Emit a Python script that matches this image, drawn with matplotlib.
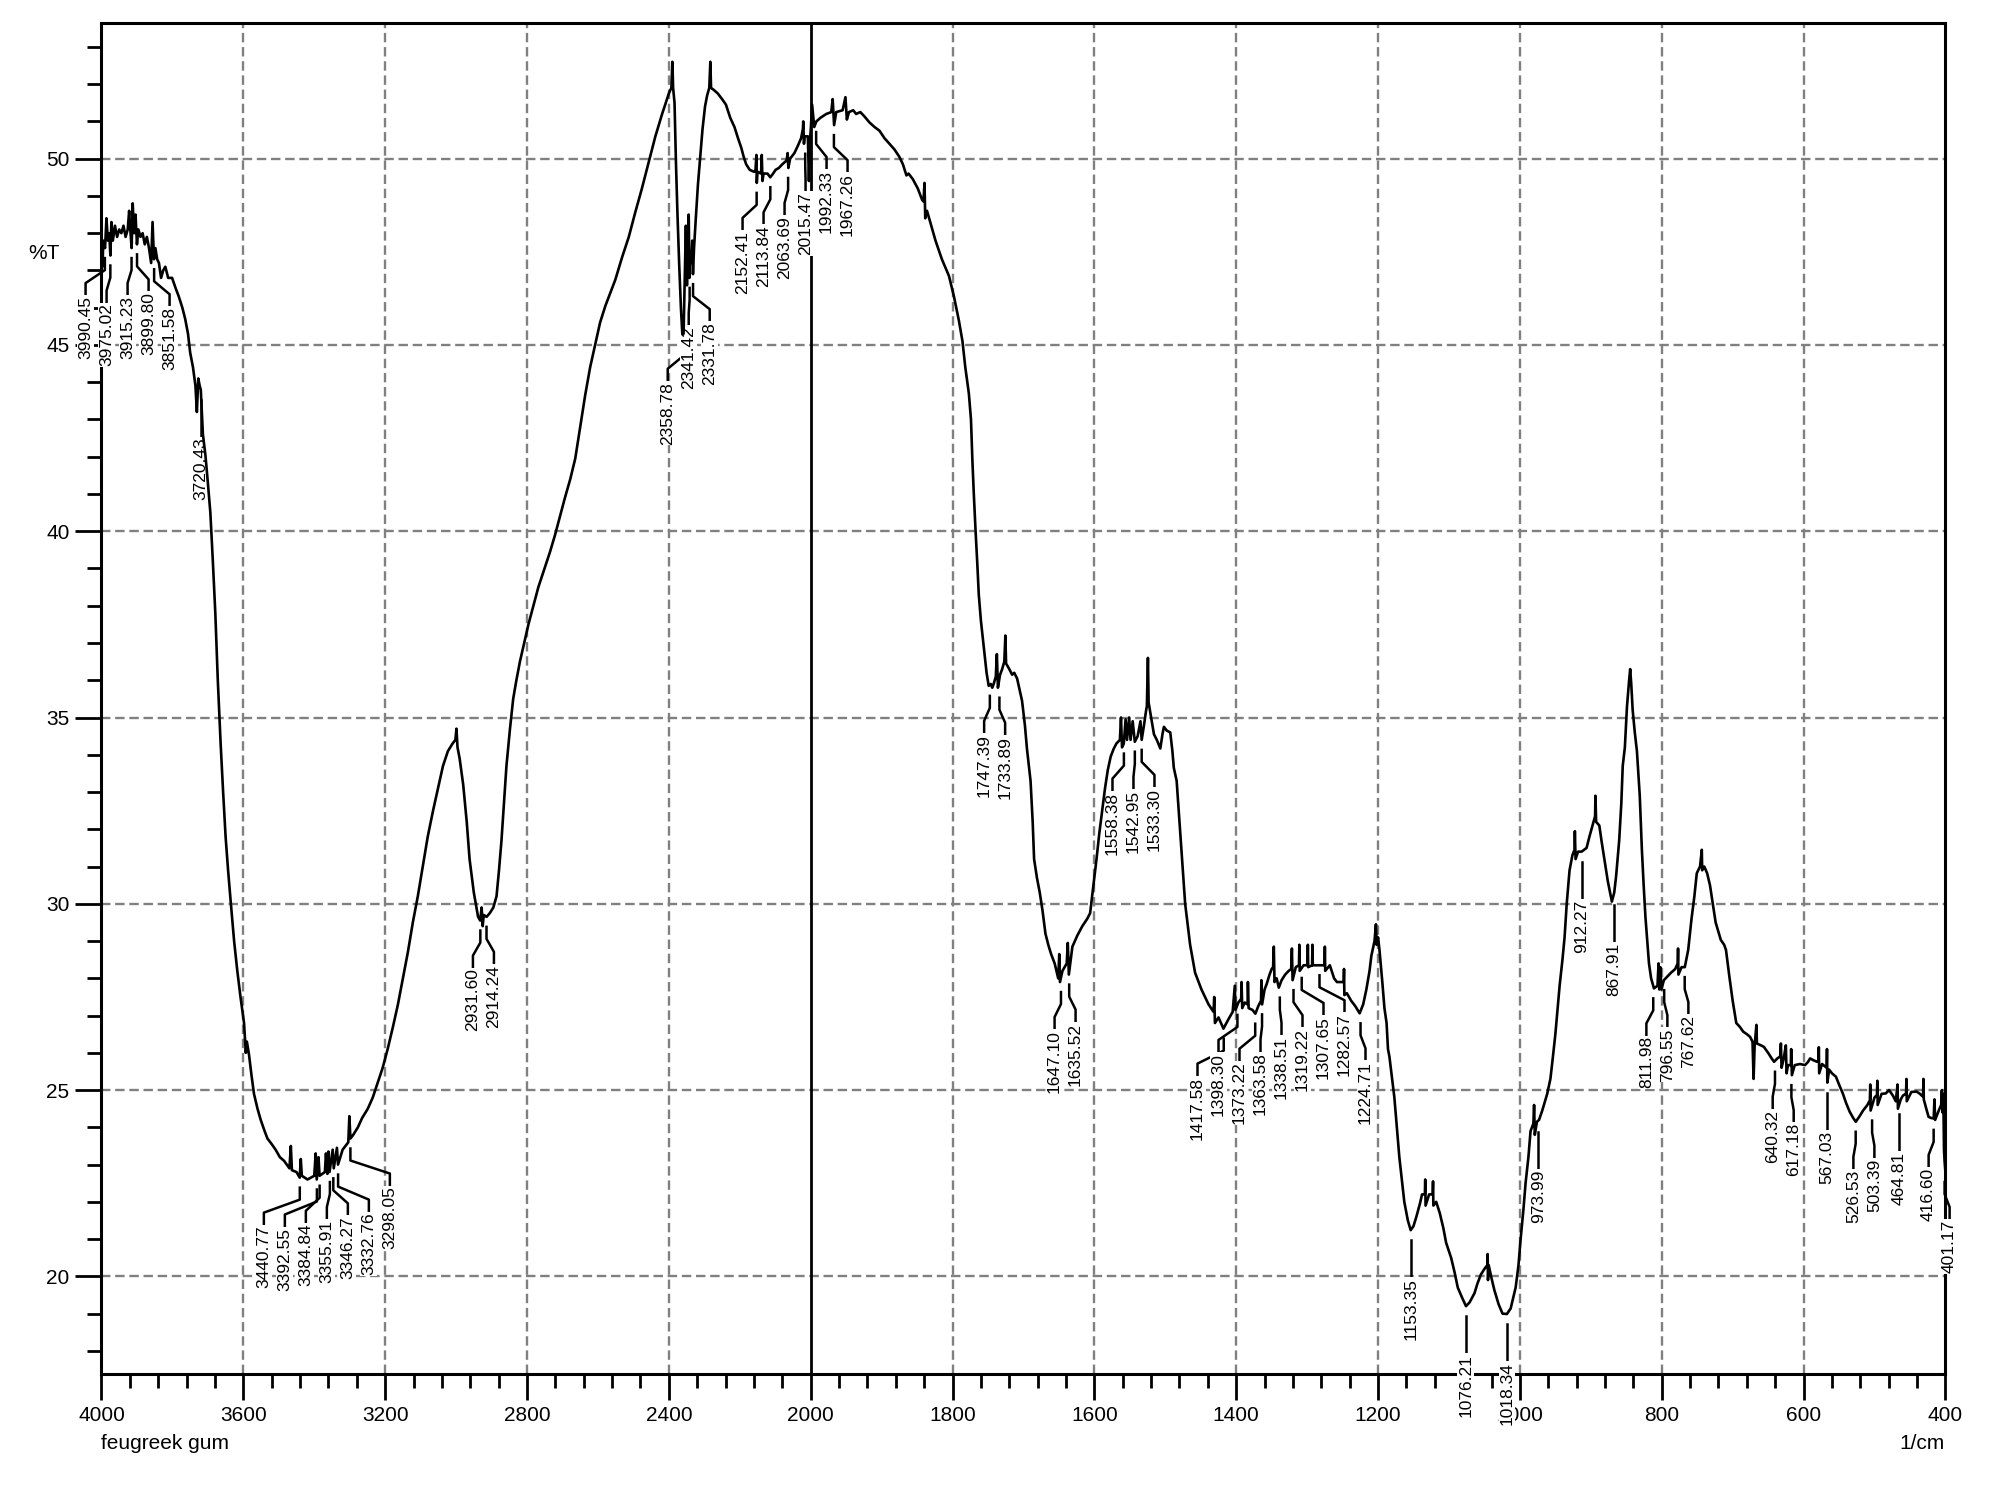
import numpy as np
import matplotlib
matplotlib.use("Agg")
import matplotlib.pyplot as plt
from matplotlib.ticker import FixedLocator

plt.rcParams['font.family'] = ['Liberation Sans', 'DejaVu Sans']

# spectrum (1/cm, %T)
wavenumber = [
    4000, 3997, 3995, 3990, 3986, 3982, 3978, 3975, 3972, 3968, 3962, 3956, 3950, 3944, 3938,
    3932, 3926, 3922, 3918, 3915, 3912, 3908, 3904, 3900, 3896, 3890, 3884, 3878, 3872, 3866,
    3860, 3856, 3852, 3848, 3843, 3838, 3832, 3826, 3820, 3812, 3801, 3790, 3782, 3772, 3764,
    3756, 3750, 3742, 3735, 3731, 3727, 3723, 3720, 3714, 3707, 3700, 3693, 3686, 3679, 3672,
    3664, 3657, 3650, 3643, 3636, 3626, 3617, 3608, 3598, 3593, 3590, 3584, 3577, 3570, 3560,
    3551, 3540, 3532, 3520, 3509, 3497, 3485, 3470, 3466, 3463, 3450, 3441, 3438, 3435, 3419,
    3400, 3396, 3393, 3388, 3385, 3370, 3367, 3363, 3360, 3357, 3348, 3345, 3336, 3333, 3320,
    3304, 3301, 3298, 3290, 3277, 3265, 3249, 3235, 3221, 3207, 3193, 3178, 3164, 3150, 3136,
    3122, 3108, 3094, 3080, 3065, 3051, 3037, 3023, 3010, 3002, 2999, 2996, 2990, 2980, 2970,
    2962, 2950, 2938, 2932, 2928, 2925, 2922, 2914, 2905, 2895, 2886, 2879, 2872, 2865, 2858,
    2848, 2839, 2830, 2820, 2808, 2796, 2782, 2768, 2749, 2735, 2721, 2707, 2693, 2678, 2664,
    2650, 2636, 2622, 2608, 2594, 2579, 2565, 2551, 2532, 2513, 2495, 2476, 2457, 2438, 2419,
    2400, 2393, 2390, 2388, 2384, 2380, 2376, 2371, 2366, 2362, 2358.5, 2355, 2352, 2349, 2346,
    2344, 2342, 2340, 2337, 2334, 2332, 2329, 2324, 2318, 2312, 2305, 2298, 2292, 2286, 2283,
    2281, 2274, 2262, 2250, 2239, 2227, 2215, 2205, 2196, 2189, 2182, 2172, 2160, 2156, 2153,
    2152, 2150, 2140, 2138, 2136, 2133, 2122, 2114, 2106, 2099, 2090, 2080, 2068, 2065, 2063,
    2058, 2046, 2036, 2027, 2022, 2021, 2019, 2017, 2012, 2008, 2005, 2002, 2000, 1998, 1995,
    1992, 1986, 1978, 1971, 1969, 1967, 1964, 1955, 1951, 1949, 1946, 1940, 1936, 1930, 1925,
    1917, 1910, 1903, 1896, 1889, 1882, 1875, 1870, 1865, 1862, 1856, 1849, 1843, 1841, 1839.5,
    1838.5, 1836, 1830, 1824, 1815, 1805, 1798, 1791, 1786, 1782, 1777, 1774, 1772, 1770, 1767.5,
    1765, 1763, 1760, 1756, 1752, 1749, 1746, 1744, 1742, 1739, 1737.5, 1736, 1733, 1730, 1727,
    1725.5, 1724.5, 1720, 1716, 1713, 1709, 1705, 1702, 1698, 1695, 1690, 1687, 1685, 1681, 1677,
    1673, 1669, 1665, 1661, 1656, 1651, 1649.5, 1648.5, 1645, 1639, 1637.5, 1636, 1631, 1624, 1617,
    1610, 1606, 1601, 1597, 1593, 1589, 1585, 1581, 1577, 1573, 1569, 1564, 1562.5, 1561, 1558.5,
    1556, 1554, 1551, 1549, 1546, 1543, 1539, 1535, 1533.3, 1530, 1527, 1526, 1524.5, 1523.5, 1520,
    1516, 1512, 1507, 1504, 1502, 1498, 1493, 1490, 1488, 1484, 1480, 1477, 1472, 1465, 1458,
    1449, 1439, 1432, 1431, 1430, 1425, 1418, 1411, 1405, 1402, 1401, 1397, 1393, 1392.5, 1391.5,
    1388, 1384, 1383.5, 1382.5, 1377, 1373, 1369, 1365, 1364.5, 1363.5, 1360, 1357, 1353, 1350, 1348,
    1347, 1346, 1343, 1340, 1336, 1331, 1326, 1322.5, 1321.5, 1320.5, 1316, 1311.5, 1311, 1310.5, 1305,
    1299.5, 1299, 1298.5, 1293, 1292.5, 1292, 1283, 1275.5, 1275, 1274.5, 1268, 1262, 1258, 1252, 1248.5,
    1248, 1247.5, 1244, 1238, 1232, 1226, 1221, 1216.5, 1212, 1209.5, 1205, 1203, 1202, 1200, 1198,
    1194, 1191, 1188, 1186, 1184, 1177, 1170, 1163, 1158, 1154, 1150, 1146, 1141, 1138, 1134,
    1133.5, 1133, 1128, 1123, 1122.5, 1122, 1118, 1113, 1108, 1104, 1097, 1092, 1087.6, 1082, 1076,
    1071, 1064, 1060, 1055, 1050, 1046, 1045.5, 1045, 1044, 1040, 1036, 1030, 1024.5, 1018.3, 1013,
    1006, 1002, 999, 995, 992, 988, 985, 981, 980, 979, 976, 973, 968.5, 961.5, 957,
    954, 950, 947, 944, 940, 937, 934, 930, 926, 923, 922.5, 921.5, 918, 913, 906,
    902, 898, 894, 893.5, 892.5, 888, 885, 881.5, 876, 870.3, 867, 864.4, 860, 857, 855,
    852, 849, 846, 844.5, 843, 841, 838, 835, 831, 828, 825.5, 823, 820, 818, 815,
    811, 806, 804.5, 803.5, 802, 800.5, 797, 792, 787, 781, 777.5, 777, 776.5, 772, 767.5,
    762.7, 758, 754, 750.6, 746, 743.5, 743, 740, 736, 732, 728.8, 724, 716.7, 712, 709.4,
    704.6, 700, 694.9, 690, 685.2, 680, 675.5, 672, 670.5, 669, 666.5, 665.8, 660, 656, 650,
    645, 641.6, 637, 633, 632, 631, 628, 625, 624, 622, 618, 617.5, 616.5, 612.5, 605,
    598, 594, 590.8, 586, 581, 579, 578.5, 578, 574, 567.5, 567, 566.5, 564, 560, 554.4,
    550, 544.7, 540, 535, 530, 526.4, 521, 515.8, 510, 506.5, 506, 505.5, 500, 496.5, 496,
    495.5, 490, 484.2, 479.4, 474, 470, 467.5, 467, 463, 460, 455.5, 455, 454.5, 448, 440.7,
    436, 431.5, 431, 430.5, 427, 423.7, 420, 416.5, 415.5, 414.5, 409.2, 406, 405, 404, 403,
    402, 401.2, 400,
]
transmittance = [
    47.8, 47.1, 47.8, 47.6, 48.4, 47.8, 48.0, 47.4, 48.3, 47.8, 48.2, 47.9, 48.1, 48.0, 48.2,
    47.9, 48.1, 48.6, 48.0, 47.6, 48.8, 48.0, 48.5, 47.7, 48.1, 47.9, 48.0, 47.7, 47.9, 47.6,
    47.2, 48.3, 47.3, 47.6, 47.3, 47.2, 46.8, 47.0, 47.1, 46.8, 46.8, 46.5, 46.3, 46.0, 45.7,
    45.3, 44.8, 44.4, 43.9, 43.2, 44.1, 43.9, 43.8, 42.6, 42.05, 41.3, 40.5, 39.2, 37.8, 36.0,
    34.3, 33.0, 31.8, 30.9, 30.1, 29.0, 28.2, 27.5, 26.8, 26.0, 26.3, 25.95, 25.4, 24.9, 24.5,
    24.2, 23.9, 23.7, 23.55, 23.4, 23.2, 23.1, 22.9, 23.5, 22.85, 22.8, 22.65, 23.15, 22.7, 22.6,
    22.7, 23.3, 22.6, 23.2, 22.7, 22.8, 23.3, 22.75, 23.35, 22.8, 23.4, 22.9, 23.45, 23.0, 23.4,
    23.6, 24.3, 23.7, 23.8, 24.0, 24.25, 24.5, 24.8, 25.2, 25.6, 26.1, 26.7, 27.3, 28.0, 28.7,
    29.5, 30.2, 31.0, 31.8, 32.5, 33.1, 33.7, 34.1, 34.3, 34.4, 34.7, 34.2, 33.9, 33.2, 32.2,
    31.2, 30.3, 29.65, 29.55, 29.9, 29.4, 29.7, 29.65, 29.75, 29.9, 30.2, 30.9, 31.7, 32.7, 33.7,
    34.7, 35.5, 36.0, 36.5, 37.0, 37.5, 38.0, 38.5, 39.05, 39.45, 39.9, 40.4, 40.9, 41.4, 41.95,
    42.8, 43.65, 44.4, 45.0, 45.6, 46.05, 46.4, 46.75, 47.35, 47.9, 48.55, 49.2, 49.9, 50.6, 51.2,
    51.75, 51.9, 52.6, 51.9, 51.5, 49.9, 48.6, 47.2, 46.0, 45.3, 45.3, 46.8, 48.2, 46.6, 47.8,
    48.5, 46.8, 47.4, 47.2, 47.8, 46.9, 47.6, 48.4, 49.3, 50.0, 50.8, 51.4, 51.7, 51.9, 52.6,
    51.9, 51.85, 51.75, 51.6, 51.45, 51.1, 50.85, 50.55, 50.3, 50.05, 49.85, 49.7, 49.65, 49.65, 50.1,
    49.35, 49.65, 49.6, 50.1, 49.4, 49.6, 49.6, 49.5, 49.6, 49.7, 49.75, 49.85, 49.95, 50.15, 49.75,
    50.0, 50.15, 50.35, 50.55, 50.8, 51.0, 50.4, 50.6, 50.6, 50.6, 49.4, 50.5, 50.75, 51.45, 50.85,
    51.0, 51.1, 51.2, 51.25, 51.6, 50.9, 51.25, 51.3, 51.65, 51.05, 51.25, 51.3, 51.2, 51.25, 51.15,
    50.97, 50.85, 50.75, 50.55, 50.4, 50.25, 50.05, 49.85, 49.55, 49.6, 49.45, 49.2, 48.9, 48.85, 49.35,
    48.4, 48.6, 48.2, 47.8, 47.3, 46.85, 46.3, 45.65, 45.1, 44.4, 43.7, 43.0, 41.9, 41.0, 40.0,
    39.1, 38.3, 37.6, 36.9, 36.2, 35.85, 35.9, 35.8, 35.9, 36.1, 36.7, 35.8, 36.15, 36.3, 36.5,
    37.2, 36.45, 36.3, 36.15, 36.2, 36.05, 35.7, 35.45, 34.8, 34.15, 33.3, 32.2, 31.2, 30.7, 30.3,
    29.8, 29.2, 28.9, 28.65, 28.4, 28.0, 28.65, 27.9, 28.2, 28.4, 28.95, 28.1, 28.85, 29.15, 29.4,
    29.6, 29.75, 30.55, 31.2, 31.9, 32.5, 33.1, 33.6, 33.95, 34.15, 34.3, 34.4, 35.0, 34.2, 34.3,
    34.95, 34.4, 35.0, 34.4, 34.9, 34.35, 34.5, 34.9, 34.4, 34.8, 35.2, 35.3, 36.6, 35.4, 35.0,
    34.55, 34.4, 34.17, 34.55, 34.75, 34.65, 34.6, 34.1, 33.65, 33.3, 32.2, 31.4, 30.0, 28.9, 28.15,
    27.7, 27.3, 27.1, 27.5, 26.8, 26.95, 26.65, 26.9, 27.1, 27.8, 27.15, 27.35, 27.45, 27.9, 27.2,
    27.35, 27.3, 27.9, 27.2, 27.15, 27.05, 27.25, 27.4, 27.95, 27.3, 27.7, 27.85, 28.1, 28.25, 28.3,
    28.85, 27.9, 28.0, 27.75, 27.95, 28.1, 28.2, 28.25, 28.8, 27.95, 28.3, 28.35, 28.9, 28.2, 28.35,
    28.35, 28.9, 28.3, 28.35, 28.9, 28.35, 28.35, 28.35, 28.85, 28.2, 28.35, 28.0, 27.9, 27.9, 27.9,
    28.25, 27.55, 27.6, 27.4, 27.25, 27.06, 27.3, 27.7, 28.2, 28.6, 29.0, 29.45, 28.9, 29.1, 28.76,
    27.9, 27.2, 26.8, 26.1, 25.9, 24.8, 23.2, 22.0, 21.5, 21.24, 21.35, 21.6, 21.95, 22.2, 22.2,
    22.6, 21.9, 22.2, 22.2, 22.55, 21.9, 22.0, 21.7, 21.3, 20.9, 20.5, 20.1, 19.7, 19.45, 19.2,
    19.3, 19.55, 19.8, 20.05, 20.2, 20.3, 20.6, 19.9, 20.3, 19.95, 19.63, 19.25, 19.0, 18.99, 19.14,
    19.7, 20.3, 21.0, 21.8, 22.5, 23.2, 23.9, 24.1, 24.6, 23.8, 24.15, 24.2, 24.45, 24.9, 25.3,
    25.8, 26.5, 27.15, 27.8, 28.5, 29.1, 30.0, 30.9, 31.3, 31.45, 31.95, 31.2, 31.4, 31.4, 31.5,
    31.8, 32.07, 32.35, 32.9, 32.2, 32.1, 31.7, 31.27, 30.6, 30.06, 30.3, 30.73, 31.7, 32.7, 33.7,
    34.2, 35.3, 36.0, 36.3, 35.9, 35.2, 34.6, 34.1, 32.9, 31.45, 30.5, 29.65, 28.9, 28.4, 28.0,
    27.73, 27.8, 28.4, 27.7, 28.3, 27.7, 27.95, 28.05, 28.15, 28.25, 28.4, 28.8, 28.1, 28.3, 28.3,
    28.76, 29.6, 30.2, 30.82, 31.0, 31.45, 30.9, 31.0, 30.82, 30.5, 30.1, 29.5, 29.03, 28.9, 28.76,
    28.04, 27.4, 26.8, 26.7, 26.57, 26.5, 26.43, 26.3, 25.3, 26.2, 26.75, 26.25, 26.2, 26.16, 26.0,
    25.85, 25.76, 25.85, 25.9, 26.25, 25.6, 25.85, 26.2, 25.45, 25.67, 25.67, 26.1, 25.4, 25.67, 25.7,
    25.67, 25.75, 25.85, 25.8, 25.76, 25.8, 26.15, 25.45, 25.7, 25.6, 26.1, 25.2, 25.55, 25.45, 25.36,
    25.15, 24.91, 24.65, 24.42, 24.25, 24.15, 24.3, 24.46, 24.6, 24.73, 25.15, 24.45, 24.8, 24.87, 25.25,
    24.6, 24.9, 24.91, 25.0, 24.85, 24.7, 25.15, 24.5, 24.75, 24.85, 24.91, 25.3, 24.7, 24.95, 24.96,
    24.9, 24.82, 25.3, 24.75, 24.5, 24.28, 24.25, 24.24, 24.75, 24.2, 24.46, 24.6, 25.0, 24.4, 24.9,
    23.4, 23.1, 22.8,
]

# picked peaks (labelled in the chart)
peak_wavenumbers = [
    3990.45, 3975.02, 3915.23, 3899.80, 3851.58, 3720.43, 3440.77, 3392.55, 3384.84, 3355.91,
    3346.27, 3332.76, 3298.05, 2931.60, 2914.24, 2358.78, 2341.42, 2331.78, 2152.41, 2113.84,
    2063.69, 2015.47, 1992.33, 1967.26, 1747.39, 1733.89, 1647.10, 1635.52, 1558.38, 1542.95,
    1533.30, 1417.58, 1398.30, 1373.22, 1363.58, 1338.51, 1319.22, 1307.65, 1282.57, 1224.71,
    1153.35, 1076.21, 1018.34, 973.99, 912.27, 867.91, 811.98, 796.55, 767.62, 640.32,
    617.18, 567.03, 526.53, 503.39, 464.81, 416.60, 401.17,
]

x_major = [4000, 3600, 3200, 2800, 2400, 2000, 1800, 1600, 1400, 1200, 1000, 800, 600, 400]
y_major = [20, 25, 30, 35, 40, 45, 50]


# the 1/cm axis is compressed by half above 2000
def fwd(x):
    x = np.asarray(x, dtype=float)
    return np.where(x <= 2000, x - 400, 1600 + (x - 2000) / 2)


def inv(u):
    u = np.asarray(u, dtype=float)
    return np.where(u <= 1600, u + 400, 2000 + (u - 1600) * 2)


fig = plt.figure(figsize=(19.9, 14.92), dpi=100)
ax = fig.add_axes([0.0510, 0.0791, 0.9266, 0.9057])
ax.set_xscale('function', functions=(fwd, inv))
ax.set_xlim(4000, 400)
ax.set_ylim(17.38, 53.65)

grid_kw = dict(color='#808080', lw=1.7, dashes=(4, 2), zorder=1)
for x in x_major[1:-1]:
    if x != 2000:
        ax.axvline(x, **grid_kw)
for y in y_major:
    ax.axhline(y, **grid_kw)
ax.axvline(2000, color='black', lw=2.0, zorder=2)

# curve kept above the label boxes so it is never hidden
ax.plot(wavenumber, transmittance, color='black', lw=1.9, zorder=7)

ax.xaxis.set_major_locator(FixedLocator(x_major))
ax.xaxis.set_minor_locator(FixedLocator(list(np.arange(4000, 2000, -80)) + list(np.arange(2000, 400, -40))))
ax.set_xticklabels([str(v) for v in x_major])
ax.yaxis.set_major_locator(FixedLocator(y_major))
ax.yaxis.set_minor_locator(FixedLocator(np.arange(18, 54, 1)))
ax.tick_params(which='major', direction='out', length=19, width=2.0, labelsize=15, pad=4)
ax.tick_params(which='minor', direction='out', length=10, width=2.0)
for s in ax.spines.values():
    s.set_linewidth(2.2)

fig.text(0.0221, 0.8298, '%T', fontsize=15, ha='center', va='center')
fig.text(0.0510, 0.0328, 'feugreek gum', fontsize=15, ha='left', va='center')
fig.text(0.9770, 0.0328, '1/cm', fontsize=15, ha='right', va='center')

# peak labels: leaders below the curve, labels spread so they do not collide
fig.canvas.draw()
to_px = ax.transData.transform
to_data = ax.transData.inverted().transform
curve_px = to_px(np.column_stack([wavenumber, transmittance]))
wn_arr = np.array(wavenumber)
t_arr = np.array(transmittance)

peak_px = []
for p in peak_wavenumbers:
    t0 = np.interp(p, wn_arr[::-1], t_arr[::-1])
    px, py = to_px([[p, t0]])[0]
    near = np.abs(curve_px[:, 0] - px) <= 1.5
    if near.any():
        py = min(py, curve_px[near, 1].min())
    peak_px.append((px, py))
peak_px = np.array(peak_px)

gap = 21.0
order = np.argsort(peak_px[:, 0])
groups = []


def start(g):
    return peak_px[g, 0].mean() - (len(g) - 1) * gap / 2


for i in order:
    groups.append([i])
    while len(groups) > 1:
        g1, g2 = groups[-2], groups[-1]
        if start(g1) + len(g1) * gap > start(g2):
            groups[-2] = g1 + g2
            groups.pop()
        else:
            break

label_x = np.zeros(len(peak_wavenumbers))
for g in groups:
    s = start(g)
    for k, i in enumerate(g):
        label_x[i] = s + k * gap

for i, p in enumerate(peak_wavenumbers):
    x0, y0 = peak_px[i]
    lx = label_x[i]
    pts = to_data([[x0, y0 - 10], [x0, y0 - 22], [lx, y0 - 35], [lx, y0 - 47]])
    ax.plot(pts[:, 0], pts[:, 1], color='black', lw=1.8, zorder=4, clip_on=False)
    tx, ty = to_data([[lx, y0 - 48]])[0]
    ax.text(tx, ty, f"{p:.2f}", rotation=90, ha='center', va='top', fontsize=12.5,
            zorder=6, clip_on=False,
            bbox=dict(boxstyle='square,pad=0.05', facecolor='white', edgecolor='none'))

fig.savefig('out.png', dpi=100)
